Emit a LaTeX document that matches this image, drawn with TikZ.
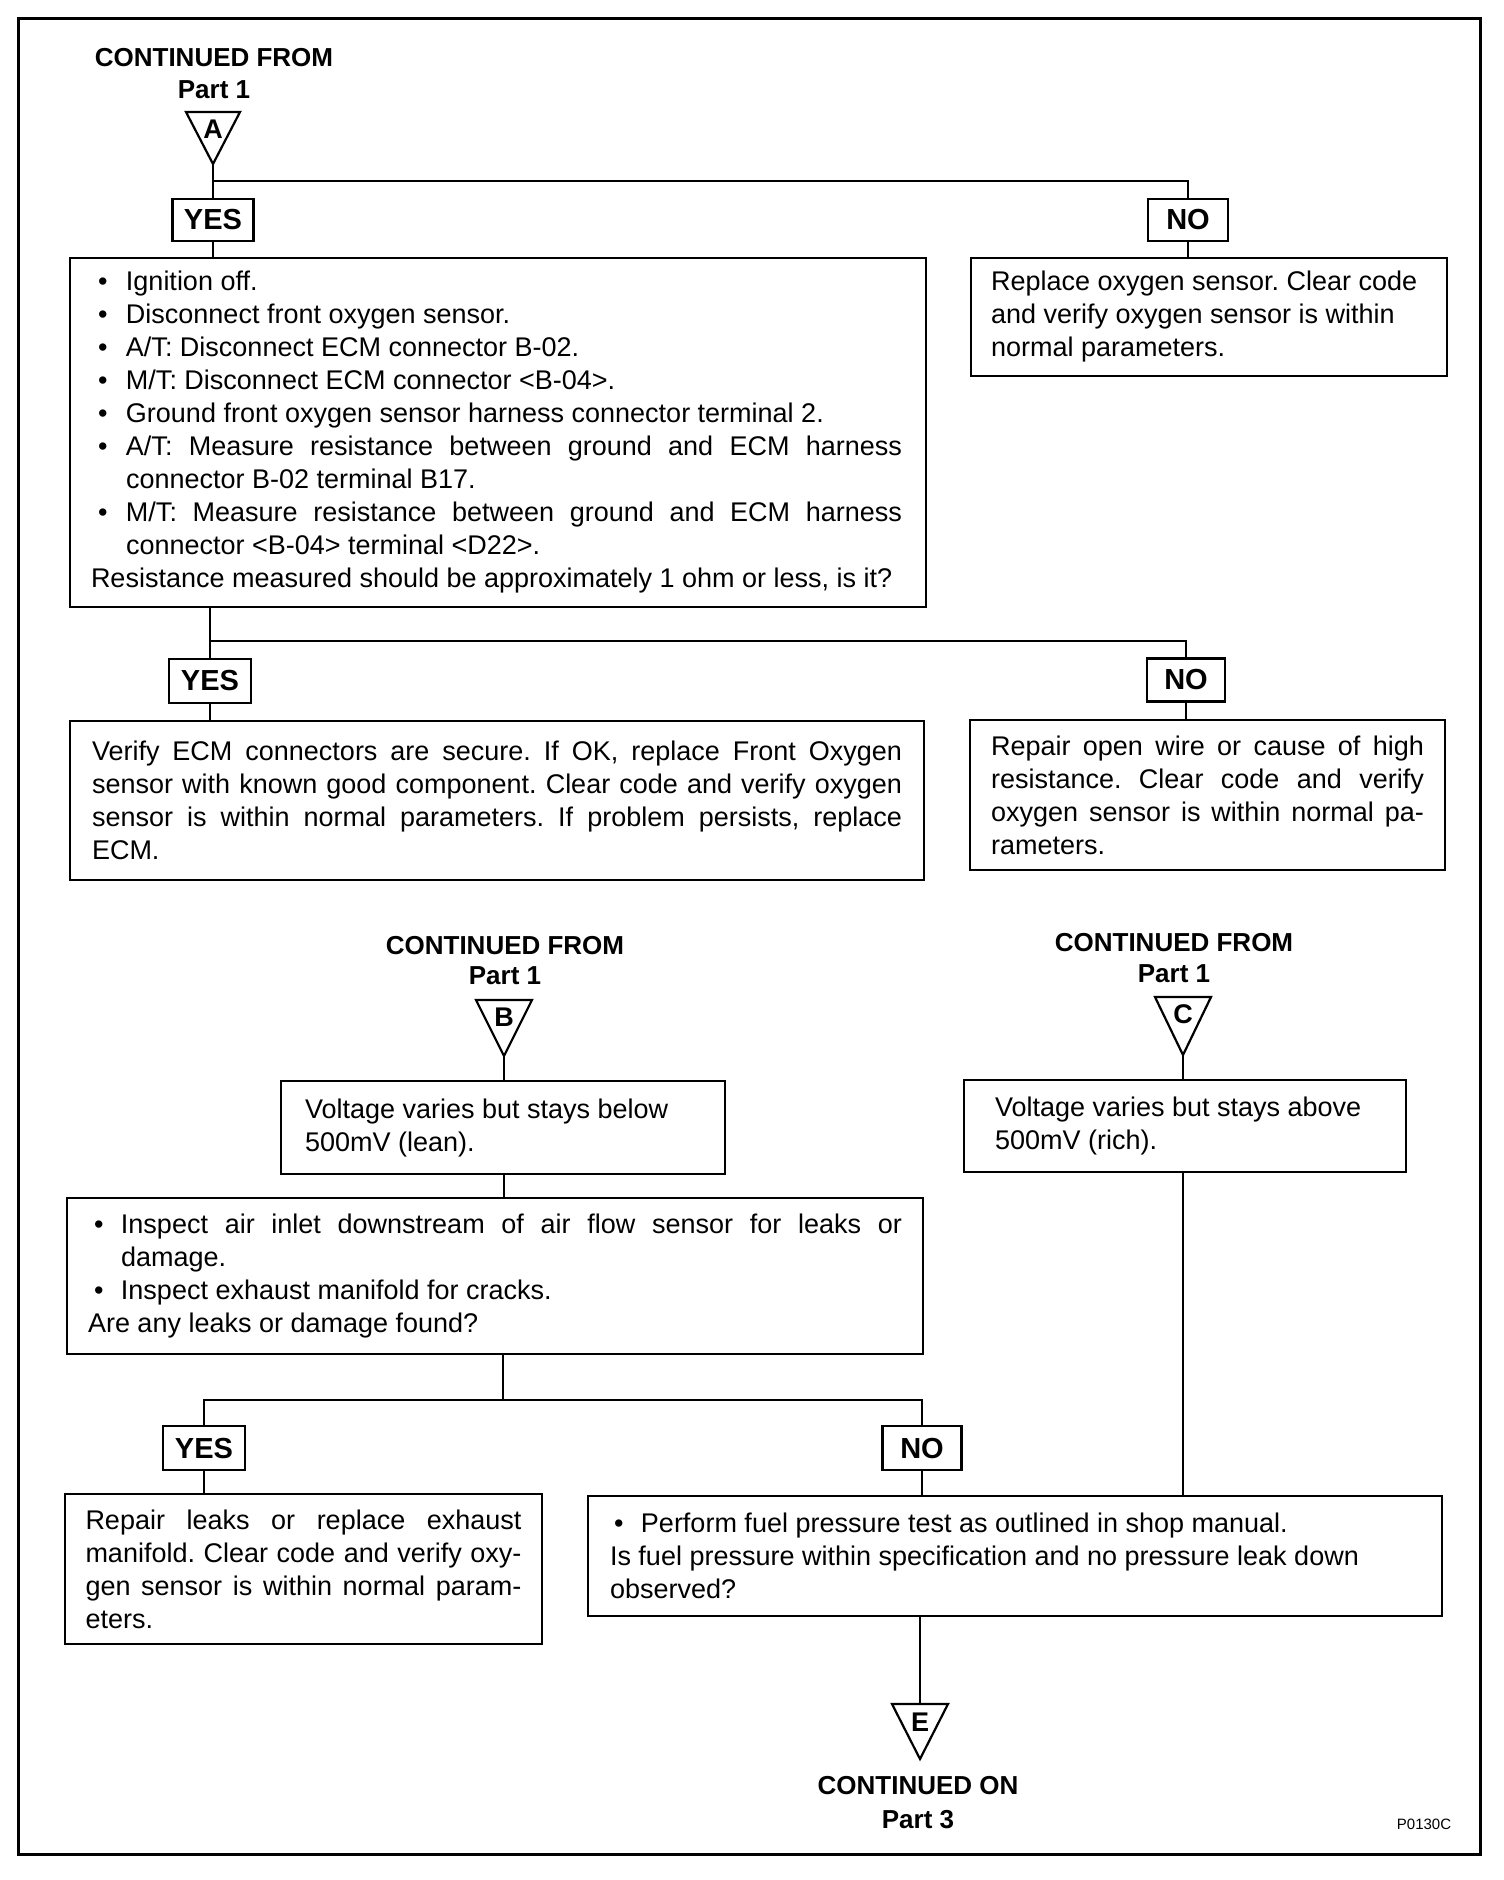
\documentclass[tikz,border=0pt]{standalone}
\usepackage{fontspec}
\setmainfont{Liberation Sans}
\newcommand\bodyfnt{\fontsize{27}{33}\selectfont}
\newcommand\titlefnt{\bfseries\fontsize{26}{30}\selectfont}
\newcommand\rs{\spaceskip=0pt\xspaceskip=0pt\frenchspacing\hyphenpenalty=10000\relax}
\newcommand\bul[3]{\makebox[#2][l]{\hspace*{#1}\textbullet}#3}
\newcommand\js[2]{{\spaceskip=0pt\xspaceskip=0pt\frenchspacing\makebox[#1][s]{#2}}}
\tikzset{
  box/.style={draw, line width=2.2pt, align=left, inner xsep=0pt, inner ysep=0pt, font=\bodyfnt},
  yn/.style={draw, line width=2.2pt, inner sep=0pt, font=\bfseries\fontsize{29}{32}\selectfont},
  ttl/.style={inner sep=0pt, font=\titlefnt},
  conn/.style={line width=2.2pt},
  tri/.style={line width=2.2pt, line join=miter},
  trilab/.style={inner sep=0pt, font=\bfseries\fontsize{27}{30}\selectfont}
}
\begin{document}
\begin{tikzpicture}[x=1pt,y=-1pt]
\useasboundingbox (0,0) rectangle (1504,1880);
\draw[line width=3pt] (18,18) rectangle (1480,1854);

% ---- A ----
\node[ttl] (cfA) at (214,58) {CONTINUED FROM};
\node[ttl] (pA) at (214,90) {Part 1};
\draw[tri] (186,112) -- (240,112) -- (213,164) -- cycle;
\node[trilab] (labA) at (213,129) {A};
\coordinate (Atip) at (213,164);
\coordinate (brA) at (213,181);

\node[yn, minimum width=81, minimum height=42] (yes1) at (213,220) {YES};
\node[yn, minimum width=80, minimum height=42] (no1) at (1188,220) {NO};

\node[box, minimum width=856, minimum height=349, text width=814] (box1) at (498,432.5) {\rs
\bul{7pt}{35pt}{Ignition off.}\\
\bul{7pt}{35pt}{Disconnect front oxygen sensor.}\\
\bul{7pt}{35pt}{A/T: Disconnect ECM connector B-02.}\\
\bul{7pt}{35pt}{M/T: Disconnect ECM connector <B-04>.}\\
\bul{7pt}{35pt}{Ground front oxygen sensor harness connector terminal 2.}\\
\bul{7pt}{35pt}{\js{776pt}{A/T: Measure resistance between ground and ECM harness}}\\
\hspace*{35pt}connector B-02 terminal B17.\\
\bul{7pt}{35pt}{\js{776pt}{M/T: Measure resistance between ground and ECM harness}}\\
\hspace*{35pt}connector <B-04> terminal <D22>.\\
Resistance measured should be approximately 1 ohm or less, is it?};

\node[box, minimum width=476, minimum height=118, text width=436] (nores1) at (1209,317) {\rs
Replace oxygen sensor. Clear code\\
and verify oxygen sensor is within\\
normal parameters.};

\draw[conn] (Atip) -- (yes1.north);
\draw[conn] (brA) -| (no1.north);
\draw[conn] (yes1.south) -- (yes1.south |- box1.north);
\draw[conn] (no1.south) -- (no1.south |- nores1.north);

% ---- second decision ----
\node[yn, minimum width=82, minimum height=44] (yes2) at (210,681) {YES};
\node[yn, minimum width=78, minimum height=43] (no2) at (1186,680) {NO};
\coordinate (br2) at (210,641);

\node[box, minimum width=854, minimum height=159, text width=810] (yesres2) at (497,800.5) {\rs
\js{810pt}{Verify ECM connectors are secure. If OK, replace Front Oxygen}\\
\js{810pt}{sensor with known good component. Clear code and verify oxygen}\\
\js{810pt}{sensor is within normal parameters. If problem persists, replace}\\
ECM.};

\node[box, minimum width=475, minimum height=150, text width=433] (nores2) at (1207.5,795) {\rs
\js{433pt}{Repair open wire or cause of high}\\
\js{433pt}{resistance. Clear code and verify}\\
\js{433pt}{oxygen sensor is within normal pa-}\\
rameters.};

\draw[conn] (yes2.north |- box1.south) -- (yes2.north);
\draw[conn] (br2) -| (no2.north);
\draw[conn] (yes2.south) -- (yes2.south |- yesres2.north);
\draw[conn] (no2.south) -- (no2.south |- nores2.north);

% ---- B ----
\node[ttl] (cfB) at (505,946) {CONTINUED FROM};
\node[ttl] (pB) at (505,976) {Part 1};
\draw[tri] (476,1000) -- (532,1000) -- (504,1056) -- cycle;
\node[trilab] (labB) at (504,1017) {B};
\coordinate (Btip) at (504,1056);

\node[box, minimum width=444, minimum height=93, text width=396] (boxB) at (503,1127.5) {\rs
Voltage varies but stays below\\
500mV (lean).};

% ---- C ----
\node[ttl] (cfC) at (1174,943) {CONTINUED FROM};
\node[ttl] (pC) at (1174,974) {Part 1};
\draw[tri] (1155,997) -- (1211,997) -- (1183,1055) -- cycle;
\node[trilab] (labC) at (1183,1014) {C};
\coordinate (Ctip) at (1183,1055);

\node[box, minimum width=442, minimum height=92, text width=380] (boxC) at (1185,1126) {\rs
Voltage varies but stays above\\
500mV (rich).};

\node[box, minimum width=856, minimum height=156, text width=814] (inspect) at (495,1276) {\rs
\bul{6pt}{33pt}{\js{781pt}{Inspect air inlet downstream of air flow sensor for leaks or}}\\
\hspace*{33pt}damage.\\
\bul{6pt}{33pt}{Inspect exhaust manifold for cracks.}\\
Are any leaks or damage found?};

\draw[conn] (Btip) -- (Btip |- boxB.north);
\draw[conn] (Btip |- boxB.south) -- (Btip |- inspect.north);

% ---- third decision ----
\node[yn, minimum width=82, minimum height=44] (yes3) at (204,1448) {YES};
\node[yn, minimum width=79, minimum height=44] (no3) at (922,1448) {NO};
\coordinate (br3) at (503,1400);

\node[box, minimum width=477, minimum height=150, text width=436] (repair) at (303.5,1569) {\rs
\js{436pt}{Repair leaks or replace exhaust}\\
\js{436pt}{manifold. Clear code and verify oxy-}\\
\js{436pt}{gen sensor is within normal param-}\\
eters.};

\node[box, minimum width=854, minimum height=120, text width=810] (fuel) at (1015,1556) {\rs
\bul{4pt}{31pt}{Perform fuel pressure test as outlined in shop manual.}\\
Is fuel pressure within specification and no pressure leak down\\
observed?};

\draw[conn] (br3 |- inspect.south) -- (br3);
\draw[conn] (yes3.north) -- (yes3.north |- br3) -- (no3.north |- br3) -- (no3.north);
\draw[conn] (yes3.south) -- (yes3.south |- repair.north);
\draw[conn] (no3.south) -- (no3.south |- fuel.north);

\draw[conn] (Ctip) -- (Ctip |- boxC.north);
\draw[conn] (Ctip |- boxC.south) -- (Ctip |- fuel.north);

% ---- E ----
\coordinate (Etop) at (920,1704);
\draw[tri] (892,1704) -- (948,1704) -- (920,1759) -- cycle;
\node[trilab] (labE) at (920,1722) {E};
\draw[conn] (Etop |- fuel.south) -- (Etop);
\node[ttl] (coE) at (918,1786) {CONTINUED ON};
\node[ttl] (pE) at (918,1820) {Part 3};

\node[inner sep=0pt, font=\fontsize{15}{17}\selectfont] (code) at (1424,1824) {P0130C};
\end{tikzpicture}
\end{document}
